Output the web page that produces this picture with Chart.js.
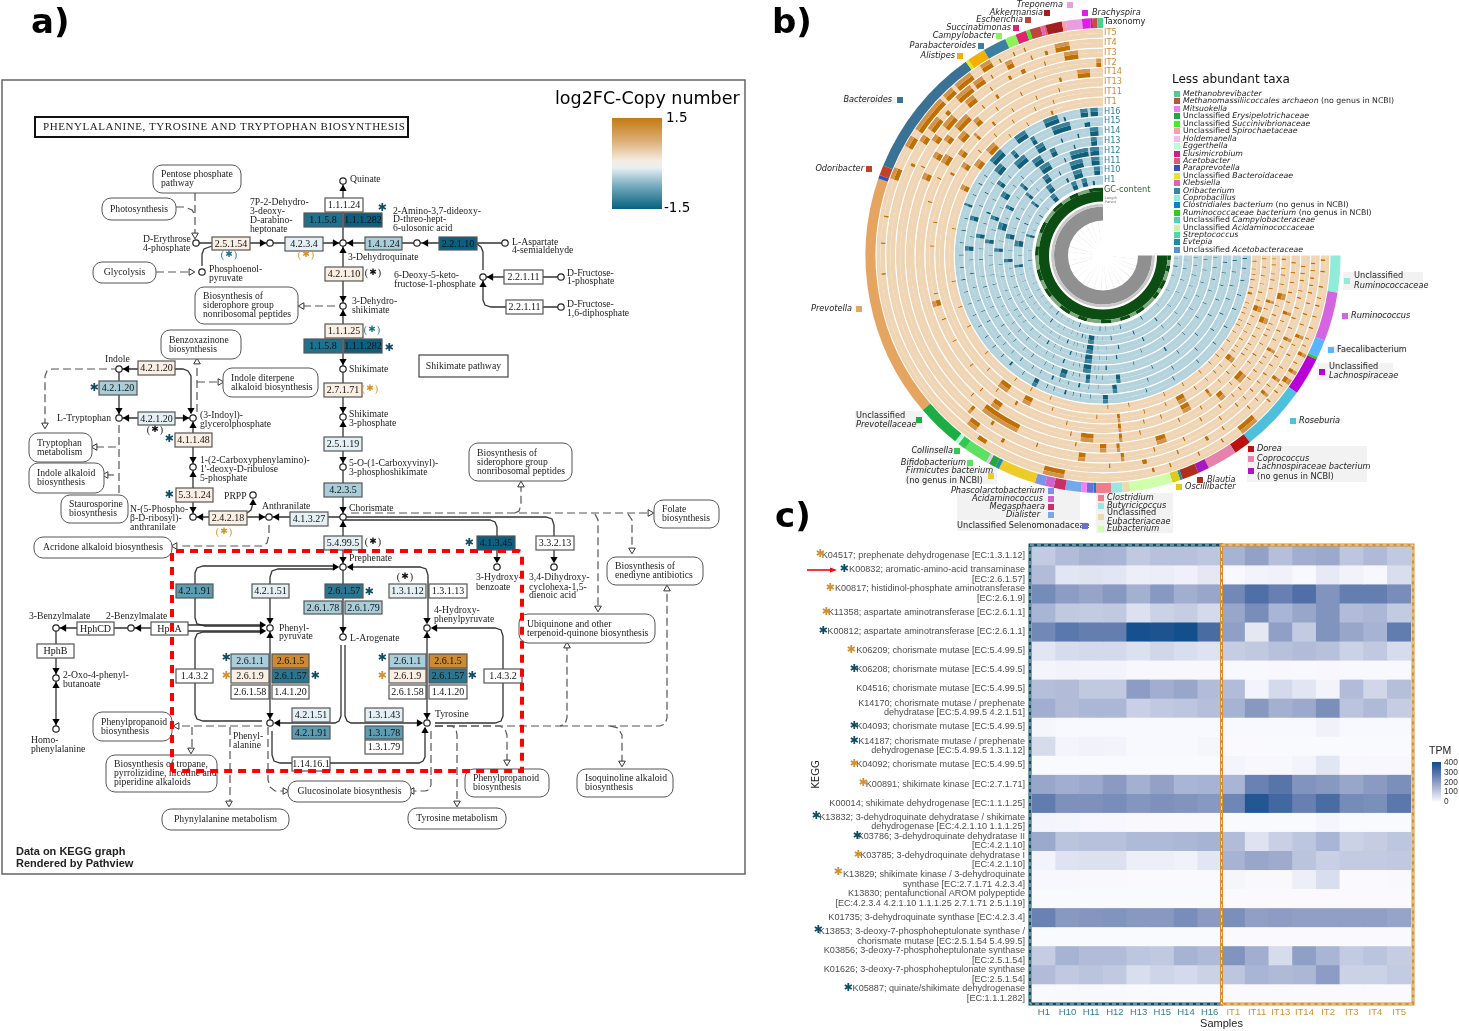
<!DOCTYPE html>
<html><head><meta charset="utf-8">
<style>html,body{margin:0;padding:0;background:#fff;width:1459px;height:1031px;overflow:hidden}canvas{position:absolute}</style>
<script src="https://cdn.jsdelivr.net/npm/chart.js@4"></script>
</head><body>
<canvas id="a" width="752" height="880" style="left:0px;top:0px"></canvas>
<canvas id="b" width="689" height="540" style="left:770px;top:0px"></canvas>
<canvas id="c" width="689" height="536" style="left:770px;top:495px"></canvas>
<script>
/* ---------- PANEL C DATA ---------- */
const samples=['H1','H10','H11','H12','H13','H15','H14','H16','IT1','IT11','IT13','IT14','IT2','IT3','IT4','IT5'];
const keggLabels=[
'K04517; prephenate dehydrogenase [EC:1.3.1.12]',
['K00832; aromatic-amino-acid transaminase','[EC:2.6.1.57]'],
['K00817; histidinol-phosphate aminotransferase','[EC:2.6.1.9]'],
'K11358; aspartate aminotransferase [EC:2.6.1.1]',
'K00812; aspartate aminotransferase [EC:2.6.1.1]',
'K06209; chorismate mutase [EC:5.4.99.5]',
'K06208; chorismate mutase [EC:5.4.99.5]',
'K04516; chorismate mutase [EC:5.4.99.5]',
['K14170; chorismate mutase / prephenate','dehydratase [EC:5.4.99.5 4.2.1.51]'],
'K04093; chorismate mutase [EC:5.4.99.5]',
['K14187; chorismate mutase / prephenate','dehydrogenase [EC:5.4.99.5 1.3.1.12]'],
'K04092; chorismate mutase [EC:5.4.99.5]',
'K00891; shikimate kinase [EC:2.7.1.71]',
'K00014; shikimate dehydrogenase [EC:1.1.1.25]',
['K13832; 3-dehydroquinate dehydratase / shikimate','dehydrogenase [EC:4.2.1.10 1.1.1.25]'],
['K03786; 3-dehydroquinate dehydratase II','[EC:4.2.1.10]'],
['K03785; 3-dehydroquinate dehydratase I','[EC:4.2.1.10]'],
['K13829; shikimate kinase / 3-dehydroquinate','synthase [EC:2.7.1.71 4.2.3.4]'],
['K13830; pentafunctional AROM polypeptide','[EC:4.2.3.4 4.2.1.10 1.1.1.25 2.7.1.71 2.5.1.19]'],
'K01735; 3-dehydroquinate synthase [EC:4.2.3.4]',
['K13853; 3-deoxy-7-phosphoheptulonate synthase /','chorismate mutase [EC:2.5.1.54 5.4.99.5]'],
['K03856; 3-deoxy-7-phosphoheptulonate synthase','[EC:2.5.1.54]'],
['K01626; 3-deoxy-7-phosphoheptulonate synthase','[EC:2.5.1.54]'],
['K05887; quinate/shikimate dehydrogenase','[EC:1.1.1.282]']];
const tpm=[
[100,130,150,145,105,120,120,110,150,185,125,160,170,110,135,105],
[130,45,48,45,25,28,22,40,5,15,20,5,35,18,8,60],
[235,195,180,205,155,205,160,175,240,300,260,300,215,265,265,230],
[145,105,100,105,55,85,95,70,175,230,145,175,215,130,140,100],
[240,280,265,265,390,380,395,310,190,40,190,100,215,175,150,270],
[45,65,70,70,55,75,60,50,95,105,120,130,120,85,105,65],
[12,18,15,14,8,8,8,8,5,5,8,5,8,5,5,5],
[125,130,105,105,195,160,175,130,130,15,70,45,15,130,75,125],
[160,130,140,140,90,105,110,125,150,205,155,170,225,115,135,95],
[10,5,5,5,5,5,5,5,5,5,5,5,20,5,5,5],
[65,12,18,15,5,5,5,10,2,2,3,3,3,3,3,3],
[3,3,3,3,3,3,3,3,12,8,8,15,45,8,8,8],
[175,160,170,200,155,185,145,150,145,255,285,215,205,175,200,225],
[270,220,220,230,210,220,215,205,245,370,320,260,310,235,225,280],
[12,10,8,8,6,6,6,6,3,3,3,3,10,3,3,3],
[170,115,120,120,135,135,140,150,130,50,90,110,145,85,95,110],
[15,50,55,55,25,25,20,45,150,175,165,115,90,100,100,105],
[8,8,6,6,4,4,4,4,10,6,6,25,60,4,4,6],
[3,3,3,3,3,3,3,3,2,2,2,2,2,2,2,2],
[255,205,210,215,205,205,230,200,225,190,195,190,190,190,190,180],
[3,3,3,3,3,3,3,3,2,2,2,2,2,2,2,2],
[95,150,130,130,110,105,150,135,215,160,65,190,145,100,115,95],
[130,105,115,105,60,80,70,85,110,145,135,140,195,85,85,100],
[4,6,6,6,4,4,4,4,2,2,2,2,2,2,2,2]];
const tpmTicks=[400,300,200,100,0];
const TEAL='#0f4c63',ORANGE='#d4902e';
const keggStars=[[820,554,ORANGE],[844,569,TEAL],[830,588,ORANGE],[826,612,ORANGE],[823,631,TEAL],[851,650,ORANGE],[854,669,TEAL],[854,726,TEAL],[854,741,TEAL],[854,764,ORANGE],[863,783,ORANGE],[816,816,TEAL],[857,836,TEAL],[858,855,ORANGE],[838,872,ORANGE],[818,930,TEAL],[848,988,TEAL]];

/* ---------- PANEL B DATA ---------- */
const taxaEnd=[9,21,25.4,26,35.3,51.8,56.1,63.5,66.3,70.4,71,73,83.4,85.2,88,91.7,92.3,94,95.3,99.2,102,104.2,106.7,116,117,118.7,119.5,125.5,127.5,128.5,139.4,198.9,199.8,202.3,234.7,235.5,239.9,245.7,248.4,251.1,252,254.7,255.5,256,260,261,264.9,266.9,267.5,268.6,270];
const taxaColors=['#8fecd9','#d465e0','#59b5ff','#2fcc1a','#b800d8','#4fc0dc','#bb1111','#e583ad','#a818c0','#ae2f1c','#1a8da0','#dccb19','#cfffa8','#ecdba8','#9be6e0','#f07e88','#0f7fd0','#6b6fd6','#f57df5','#74a8ea','#c92e66','#d163cf','#7a94e8','#eecb29','#2d8ca0','#1fa83c','#f4bdf0','#5de162','#35c653','#b8ffd8','#1cae43','#e5a560','#3550c0','#c0412a','#3a7296','#e3e81e','#f4b000','#3d7f9f','#8cf25a','#e0236f','#3df11d','#c0453a','#ea5fb3','#e05a70','#a51e1e','#fb9fa8','#e89fe0','#e21de8','#c8218c','#c0513f','#49d08e'];
const ringNames=['IT5','IT4','IT3','IT2','IT14','IT13','IT11','IT1','H16','H15','H14','H13','H12','H11','H10','H1'];
const ringHits={
IT5:[[1,2],[4,5],[8,9],[13,14],[19,20],[26,27,1],[31,32,1],[33.5,35,1],[38,39],[41,42],[47,52,1],[57,58],[64,65],[72,73],[76.5,78],[100,105.5,1],[122,128],[175,176],[183,184],[190,191],[200,203,1],[209,212,1],[214,224,1],[225,228,1],[229,234,1],[237,240,1],[242,243],[246,247],[249,250]],
IT4:[[2,3],[6,7],[10,11],[16,17],[22,23,1],[28,29],[35,36,1],[40,41,1],[46,47],[55,56],[60,62],[69,70],[78,81],[88,89],[118,120],[126,129,1],[205,207],[212,214,1],[216,220,1],[222,225],[227,232,1],[233,236,1],[238,239],[243,245,1],[250,251],[254,256],[257,261,1]],
IT3:[[3,4],[7,8],[12,13],[18,19],[24,25,1],[30,31],[36,37],[42,43],[48,49],[54,55],[66,67],[75,76],[84,85,1],[95,97,1],[109,110],[123,125],[130,131,1],[206,207],[214,216,1],[219,223,1],[228,231,1],[236,237],[242,244],[246,249],[253,254],[259,263,1]],
IT2:[[2,3],[5,6],[11,12],[17,18,1],[23,24],[29,30,1],[37,38],[44,45],[52,53],[59,60],[71,74,1],[85,86,1],[89,91,1],[98,99],[116,128,1],[133,134],[203,205,1],[210,212,1],[216,218,1],[221,226,1],[231,232],[236,238],[249,250],[268,269.5,1]],
IT14:[[1,2],[6,7],[12,14,1],[19,20],[26,27],[33,34],[40,43,1],[49,51,1],[57,58],[65,66],[78,79],[84,85,1],[93,97,1],[100,101],[124,127,1],[132,133],[197,198],[205,206],[210,213,1],[219,222,1],[226,228,1],[234,235],[243,244],[256,258],[262,266,1]],
IT13:[[3,4],[8,9],[15,16,1],[21,23,1],[28,29],[35,36],[43,44],[52,53,1],[60,63,1],[70,71],[76,77],[84,85,1],[102,103],[120,122],[128,129],[140,141],[150,151],[158,159],[163,165,1],[167,168],[183,184],[191,192],[208,210],[215,217,1],[223,224,1],[230,232],[238,239],[247,248],[255,256]],
IT11:[[1,2],[7,8],[13,14],[18,20,1],[25,26],[31,32],[38,40,1],[46,47],[55,56],[60,63,1],[67,68],[75,76],[84,85,1],[92,93],[108,109],[116,119,1],[125,129,1],[135,136],[212,214,1],[220,221],[228,229],[236,237],[245,246],[252,253]],
IT1:[[2,3],[9,10],[14,16],[22,23],[27,28],[34,35],[41,42],[50,51],[58,59],[66,67],[80,81],[88,89],[110,111],[118,119],[125,126],[140,141],[152,153],[160,161],[170,171],[190,191],[205,207,1],[215,218,1],[222,226,1],[232,233],[240,241],[250,252]],
H16:[[1,2],[5,6],[10,11],[16,17],[22,23],[30,31],[38,39],[48,49],[60,61],[72,73],[88,90,1],[105,107],[117,119,1],[130,132],[170,171],[180,181],[190,191],[200,201,1],[210,211],[220,226,1],[233,238,1],[246,252,1],[254,256],[261,264,1],[265,268,1]],
H15:[[2,3],[7,8],[13,14],[19,20],[26,27],[34,35],[45,46],[58,59],[70,71],[84,86,1],[100,102],[112,114],[128,129],[150,151],[172,173],[182,184,1],[195,197,1],[208,209],[218,222,1],[228,230,1],[238,240,1],[248,256,1],[262,268]],
H14:[[3,4],[8,9],[14,15],[21,22],[29,30],[40,41],[52,53],[66,67],[82,84,1],[96,98,1],[107,110,1],[125,126],[145,146],[165,166],[178,179],[188,190,1],[200,202],[214,216,1],[226,232,1],[238,242,1],[250,252],[258,260],[264,268,1]],
H13:[[1,2],[6,7],[12,13],[18,19],[25,26],[33,34],[44,45],[56,58],[74,75],[88,90],[96,100,1],[110,112],[132,133],[158,159],[175,176],[186,188,1],[198,200,1],[210,213,1],[224,225],[233,238,1],[243,246,1],[255,257],[264,267,1]],
H12:[[2,3],[8,9],[15,16],[23,24],[31,32],[42,43],[54,55],[68,69],[82,84],[96,100,1],[108,110],[122,124],[148,149],[168,169],[182,184,1],[194,198,1],[206,208,1],[220,222,1],[234,240,1],[248,250],[252,262,1],[263,268,1]],
H11:[[1,2],[6,7],[12,13],[19,20],[27,28],[38,39],[50,51],[64,66],[80,82],[96,100,1],[112,114],[138,139],[160,161],[176,178,1],[190,193,1],[203,205],[218,220,1],[232,236,1],[242,244],[250,258,1],[263,268,1]],
H10:[[3,4],[9,10],[17,18],[26,27],[37,38],[50,52],[68,70],[84,86],[96,100,1],[104,106],[128,130],[150,151],[172,174,1],[186,190,1],[202,204],[216,218,1],[230,234,1],[244,248],[250,256,1],[264,268,1]],
H1:[[2,3],[8,10],[16,17],[28,29],[42,43],[58,60],[76,78],[92,94],[108,110],[128,130],[152,153],[176,178],[194,196,1],[212,214],[228,232,1],[246,250,1],[254,258,1],[262,266]]
};
const ringFineTicks={
IT5:[11,16,22,24,29,36],IT4:[4,8,13,19,25,32,38,43],IT3:[5,10,15,21,27,33,39,45],IT2:[8,14,20,26,32,34,40,47],IT14:[4,9,16,22,24,29,36,45],IT13:[1,6,11,18,25,31,33,40,47],IT11:[4,10,16,22,28,34,36,43,50],IT1:[5,7,12,18,20,25,30,38,45],
H16:[95,99,102,110,113,124,135,140,145,150,155,160,165,175,185,195,205,214],H15:[92,96,105,109,118,122,133,138,142,155,160,166,178,188,202,213],H14:[90,93,101,104,114,118,130,136,140,150,155,160,170,183,195,207,220],H13:[92,94,102,105,116,120,126,138,143,148,153,165,170,180,193,205,218],H12:[88,92,102,105,114,118,128,134,140,144,155,160,175,188,201,214,226],H11:[88,93,102,106,108,118,124,130,145,150,155,167,172,183,197,210,225],H10:[90,94,102,108,112,118,122,135,140,145,156,162,167,180,196,208,222],H1:[82,88,98,102,114,118,124,135,140,146,158,164,170,184,200,206,220]};
const gcFringe=[[4,9],[14,22],[30,34],[40,52],[60,66],[75,83],[92,104],[112,120],[130,142],[150,158],[168,180],[188,200],[210,222],[232,240],[248,258]];
const dendroSpokes=[6,17,25,38,52,60,71,84,93,105,118,126,139,150,163,172,186,195,208,219,228,241,250,262];
const taxaLabels=[
['|Treponema',1063,5,'r',1070,5,'#e89fe0'],['|Akkermansia',1043,13,'r',1047,13,'#a51e1e'],['|Brachyspira',1092,13,'l',1085,13,'#e21de8'],
['|Escherichia',1023,20,'r',1028,20,'#c0453a'],['|Succinatimonas',1011,28,'r',1016,28,'#e0236f'],['|Campylobacter',995,36,'r',999,36,'#8cf25a'],
['|Parabacteroides',976,46,'r',981,46,'#3d7f9f'],['|Alistipes',955,56,'r',960,56,'#f4b000'],['|Bacteroides',892,100,'r',900,100,'#3a7296'],
['|Odoribacter',864,169,'r',869,169,'#c0412a'],['|Prevotella',852,309,'r',859,309,'#e5a560'],['Unclassified',856,416,'l',919,420,'#1cae43'],
['|Prevotellaceae',856,425,'l'],['|Collinsella',953,451,'r',957,451,'#35c653'],['|Bifidobacterium',966,463,'r',970,463,'#5de162'],
['|Firmicutes bacterium',906,471,'l',991,476,'#eecb29'],['(no genus in NCBI)',906,481,'l'],
['|Phascolarctobacterium',1045,491,'r',1051,491,'#7a94e8'],['|Acidaminococcus',1043,499,'r',1051,499,'#d163cf'],['|Megasphaera',1045,507,'r',1051,507,'#c92e66'],['|Dialister',1040,515,'r',1051,515,'#74a8ea'],
['Unclassified Selenomonadaceae',957,526,'l',1085,526,'#6b6fd6'],
['|Clostridium',1107,498,'l',1101,498,'#f07e88'],['|Butyricicoccus',1107,506,'l',1101,506,'#9be6e0'],['Unclassified',1107,513,'l',1101,517,'#ecdba8'],['|Eubacteriaceae',1107,522,'l'],['|Eubacterium',1107,529,'l',1101,529,'#cfffa8'],
['|Oscillibacter',1185,487,'l',1179,487,'#dccb19'],['|Blautia',1207,480,'l',1200,480,'#ae2f1c'],
['|Dorea',1257,449,'l',1251,449,'#bb1111'],['|Coprococcus',1257,459,'l',1251,459,'#e583ad'],['|Lachnospiraceae bacterium',1257,467,'l',1251,471,'#a818c0'],['(no genus in NCBI)',1257,477,'l'],
['|Roseburia',1299,421,'l',1293,421,'#4fc0dc'],['Unclassified',1329,367,'l',1322,372,'#b800d8'],['|Lachnospiraceae',1329,376,'l'],
['Faecalibacterium',1337,350,'l',1331,350,'#59b5ff'],['|Ruminococcus',1351,316,'l',1345,316,'#d465e0'],['Unclassified',1354,276,'l',1347,281,'#8fecd9'],['|Ruminococcaceae',1354,286,'l']];
const taxaBackdrops=[[846,97,50,7],[855,411,68,18],[913,447,47,8],[905,459,67,8],[905,467,92,17],[957,488,123,32],[957,522,131,9],[1096,493,77,40],[1247,446,120,36],[1343,272,80,18],[1317,363,76,17],[1327,346,75,7],[1342,313,65,7],[1290,418,52,6]];
const lessAbundant=[['|Methanobrevibacter','#49d08e',94],['|Methanomassiliicoccales archaeon| (no genus in NCBI)','#c0513f',101],['|Mitsuokella','#f57df5',109],['Unclassified |Erysipelotrichaceae','#1fa83c',116],['Unclassified |Succinivibrionaceae','#3df11d',124],['Unclassified |Spirochaetaceae','#fb9fa8',131],['|Holdemanella','#f4bdf0',139],['|Eggerthella','#b8ffd8',146],['|Elusimicrobium','#c8218c',154],['|Acetobacter','#e05a70',161],['|Paraprevotella','#3550c0',168],['Unclassified |Bacteroidaceae','#e3e81e',176],['|Klebsiella','#ea5fb3',183],['|Oribacterium','#2d8ca0',191],['|Coprobacillus','#8feee0',198],['|Clostridiales bacterium| (no genus in NCBI)','#0f7fd0',205],['|Ruminococcaceae bacterium| (no genus in NCBI)','#2fcc1a',213],['Unclassified |Campylobacteraceae','#4fd0b8',220],['Unclassified |Acidaminococcaceae','#cdf2a0',228],['|Streptococcus','#4fd8b0',235],['|Evtepia','#1a8da0',242],['Unclassified |Acetobacteraceae','#5a8ed8',250]];

/* ---------- PANEL A DATA ---------- */
const CR='#f9efe2',LB='#e4f0f4',MB='#a9cdd9',DB='#5c9db3',TB='#2a7690',NV='#0b5f80',OR='#cc8a32',WH='#ffffff',T2='#1e7290';
const enzymes=[[212,237,250,250,'2.5.1.54',CR],[285,237,323,251,'4.2.3.4',LB],[325,198,363,212,'1.1.1.24',WH],[304,213,342,227,'1.1.5.8',T2],[344,213,382,227,'1.1.1.282',NV],[325,267,363,281,'4.2.1.10',CR],[325,324,363,338,'1.1.1.25',CR],[304,339,342,353,'1.1.5.8',T2],[344,339,382,353,'1.1.1.282',NV],[324,383,362,397,'2.7.1.71',CR],[324,437,362,451,'2.5.1.19',LB],[138,361,175,375,'4.2.1.20',CR],[99,381,137,395,'4.2.1.20',MB],[138,412,175,425,'4.2.1.20',LB],[175,433,212,447,'4.1.1.48',CR],[365,237,402,250,'1.4.1.24',MB],[439,237,477,250,'2.2.1.10',NV],[504,270,543,284,'2.2.1.11',WH],[506,300,543,314,'2.2.1.11',WH],[176,488,213,502,'5.3.1.24',CR],[209,511,247,525,'2.4.2.18',CR],[290,512,328,526,'4.1.3.27',LB],[324,483,362,497,'4.2.3.5',MB],[324,536,362,550,'5.4.99.5',LB],[176,584,213,598,'4.2.1.91',DB],[252,584,289,598,'4.2.1.51',LB],[325,584,363,598,'2.6.1.57',TB],[304,601,342,614,'2.6.1.78',MB],[345,601,382,614,'2.6.1.79',MB],[77,622,114,635,'HphCD',WH],[151,622,188,635,'HphA',WH],[37,644,74,658,'HphB',WH],[176,669,213,683,'1.4.3.2',WH],[231,654,269,668,'2.6.1.1',MB],[272,654,309,668,'2.6.1.5',OR],[231,669,269,683,'2.6.1.9',CR],[272,669,309,683,'2.6.1.57',TB],[231,685,269,699,'2.6.1.58',WH],[272,685,309,699,'1.4.1.20',WH],[292,708,330,722,'4.2.1.51',LB],[292,726,330,739,'4.2.1.91',DB],[292,757,330,771,'1.14.16.1',WH],[477,536,515,550,'4.1.3.45',NV],[536,536,574,550,'3.3.2.13',WH],[389,584,426,598,'1.3.1.12',LB],[429,584,467,598,'1.3.1.13',WH],[389,654,426,668,'2.6.1.1',MB],[429,654,467,668,'2.6.1.5',OR],[389,669,426,683,'2.6.1.9',CR],[429,669,467,683,'2.6.1.57',TB],[389,685,426,699,'2.6.1.58',WH],[429,685,467,699,'1.4.1.20',WH],[484,669,522,683,'1.4.3.2',WH],[365,708,403,722,'1.3.1.43',LB],[365,726,403,739,'1.3.1.78',DB],[365,740,403,754,'1.3.1.79',WH]];
const pathwayBoxes=[[153,165,241,193,['Pentose phosphate','pathway'],0],[102,198,176,220,['Photosynthesis'],1],[93,262,156,283,['Glycolysis'],1],[195,287,298,324,['Biosynthesis of','siderophore group','nonribosomal peptides'],0],[161,330,241,359,['Benzoxazinone','biosynthesis'],0],[223,368,318,397,['Indole diterpene','alkaloid biosynthesis'],0],[29,433,92,462,['Tryptophan','metabolism'],0],[29,463,104,493,['Indole alkaloid','biosynthesis'],0],[61,495,128,523,['Staurosporine','biosynthesis'],0],[34,537,172,558,['Acridone alkaloid biosynthesis'],1],[93,712,172,741,['Phenylpropanoid','biosynthesis'],0],[106,755,217,792,['Biosynthesis of tropane,','pyrrolizidine, nicotine and','piperidine alkaloids'],0],[162,809,289,830,['Phynylalanine metabolism'],1],[288,781,411,802,['Glucosinolate biosynthesis'],1],[469,443,572,481,['Biosynthesis of','siderophore group','nonribosomal peptides'],0],[654,500,719,528,['Folate','biosynthesis'],0],[607,557,703,585,['Biosynthesis of','enediyne antibiotics'],0],[519,614,655,643,['Ubiquinone and other','terpenoid-quinone biosynthesis'],0],[465,769,549,797,['Phenylpropanoid','biosynthesis'],0],[577,769,673,797,['Isoquinoline alkaloid','biosynthesis'],0],[408,808,506,829,['Tyrosine metabolism'],1]];
const metabolites=[[343,181],[196,243],[270,243],[343,243],[202,272],[343,306],[343,369],[343,417],[343,467],[119,369],[119,418],[193,418],[193,467],[417,243],[505,243],[483,277],[561,277],[561,307],[253,495],[193,517],[269,517],[343,517],[343,567],[270,628],[343,637],[270,723],[56,628],[131,628],[56,678],[56,729],[497,567],[554,567],[427,628],[427,723]];
const solidEdges=[[[343,181],[343,243]],[[196,243],[270,243]],[[270,243],[343,243]],[[417,243],[343,243]],[[417,243],[505,243]],[[202,266],[202,254],[204,249],[212,246]],[[343,243],[343,306]],[[343,306],[343,369]],[[343,369],[343,417]],[[343,417],[343,467]],[[343,467],[343,517]],[[343,517],[343,567]],[[343,517],[269,517]],[[269,517],[193,517]],[[247,513],[251,510],[253,503]],[[193,467],[193,517]],[[193,418],[193,467]],[[119,369],[119,418]],[[119,369],[183,369],[188,371],[191,376],[191,410]],[[119,418],[193,418]],[[483,277],[561,277]],[[483,270],[483,252],[481,247],[477,244]],[[483,277],[483,300],[485,305],[491,307],[561,307]],[[56,628],[131,628]],[[131,628],[188,628]],[[188,625],[262,625]],[[188,631],[262,631]],[[56,628],[56,678]],[[56,678],[56,729]],[[343,567],[343,637]],[[335,569],[278,569],[272,571],[270,577],[270,620]],[[335,566],[203,566],[197,568],[195,573],[195,618],[197,624],[205,626],[262,626]],[[262,632],[203,632],[197,634],[195,639],[195,714],[197,719],[203,721],[262,721]],[[270,628],[270,723]],[[341,645],[341,716],[339,721],[335,723],[278,723]],[[345,645],[345,716],[347,721],[351,723],[419,723]],[[427,628],[427,723]],[[351,567],[420,567],[426,569],[428,575],[428,620]],[[435,628],[495,628],[501,630],[503,636],[503,716],[501,721],[495,723],[435,723]],[[343,520],[490,520],[495,522],[497,527],[497,559]],[[343,517],[546,517],[552,519],[554,525],[554,559]],[[272,731],[272,755],[274,761],[280,763],[419,763],[423,761],[425,757],[425,731]]];
const dashedEdges=[[[195,193],[195,235]],[[176,207],[185,207],[192,210],[195,215]],[[156,272],[190,272]],[[335,306],[300,306]],[[119,369],[52,369],[47,371],[45,376],[45,425]],[[197,412],[197,366]],[[197,382],[222,382]],[[119,425],[119,495]],[[96,447],[117,447]],[[106,475],[117,475]],[[269,525],[269,535],[267,543],[263,546],[180,546]],[[262,726],[180,726]],[[192,727],[192,750]],[[230,727],[230,803]],[[268,727],[268,780],[270,787],[275,791],[285,791]],[[435,726],[452,726],[456,729],[457,735],[457,802]],[[431,731],[431,785],[429,790],[425,791],[414,791]],[[435,726],[500,726],[505,729],[507,735],[507,762]],[[435,726],[560,726],[565,724],[567,718],[567,648]],[[560,726],[660,726],[665,724],[667,718],[667,590]],[[610,726],[618,728],[622,735],[622,762]],[[351,513],[648,513]],[[515,513],[519,511],[521,505],[521,487]],[[595,514],[598,520],[598,605]],[[628,514],[632,520],[632,548]]];
const solidArrows=[[343,189,'u'],[262,243,'r'],[335,243,'r'],[351,243,'l'],[426,243,'l'],[343,251,'u'],[343,298,'d'],[343,314,'u'],[343,361,'d'],[343,409,'d'],[343,425,'u'],[343,459,'d'],[343,509,'d'],[343,525,'u'],[343,559,'d'],[277,517,'l'],[261,517,'r'],[201,517,'l'],[253,503,'u'],[193,509,'d'],[193,475,'u'],[193,426,'u'],[193,459,'d'],[119,410,'d'],[127,369,'l'],[191,410,'d'],[127,418,'l'],[185,418,'r'],[491,277,'l'],[483,285,'u'],[64,628,'l'],[139,628,'l'],[262,625,'r'],[262,631,'r'],[56,670,'d'],[56,686,'u'],[56,721,'d'],[343,629,'d'],[270,620,'d'],[335,567,'r'],[270,636,'u'],[270,715,'d'],[278,723,'l'],[419,723,'r'],[427,636,'u'],[427,715,'d'],[427,620,'d'],[351,567,'l'],[435,628,'l'],[497,559,'d'],[554,559,'d'],[425,731,'u']];
const openArrows=[[195,235,'d'],[191,272,'r'],[302,306,'l'],[45,425,'d'],[197,362,'u'],[220,382,'r'],[95,447,'l'],[106,475,'l'],[175,546,'l'],[177,726,'l'],[191,750,'d'],[229,803,'d'],[285,791,'r'],[457,803,'d'],[412,791,'l'],[507,762,'d'],[567,646,'u'],[667,589,'u'],[622,763,'d'],[650,513,'r'],[521,485,'u'],[598,608,'d'],[632,550,'d']];
const metaboliteLabels=[['7P-2-Dehydro-',250,202],['3-deoxy-',250,211],['D-arabino-',250,220],['heptonate',250,229],['2-Amino-3,7-dideoxy-',393,211],['D-threo-hept-',393,219],['6-ulosonic acid',393,228],['Quinate',350,179],['D-Erythrose',143,239],['4-phosphate',143,248],['Phosphoenol-',209,269],['pyruvate',209,278],['3-Dehydroquinate',348,257],['3-Dehydro-',352,301],['shikimate',352,310],['Shikimate',349,369],['Shikimate',349,414],['3-phosphate',349,423],['5-O-(1-Carboxyvinyl)-',349,463],['3-phosphoshikimate',349,472],['Indole',105,359],['L-Tryptophan',57,418],['(3-Indoyl)-',200,415],['glycerolphosphate',200,424],['1-(2-Carboxyphenylamino)-',200,460],["1'-deoxy-D-ribulose",200,469],['5-phosphate',200,478],['6-Deoxy-5-keto-',394,275],['fructose-1-phosphate',394,284],['L-Aspartate',512,242],['4-semialdehyde',512,250],['D-Fructose-',567,273],['1-phosphate',567,281],['D-Fructose-',567,304],['1,6-diphosphate',567,313],['PRPP',224,496],['Anthranilate',262,506],['Chorismate',349,508],['Prephenate',349,558],['N-(5-Phospho-',130,509],['β-D-ribosyl)-',130,518],['anthranilate',130,527],['Phenyl-',279,628],['pyruvate',279,636],['L-Arogenate',350,638],['3-Benzylmalate',29,616],['2-Benzylmalate',106,616],['2-Oxo-4-phenyl-',63,675],['butanoate',63,684],['Homo-',31,740],['phenylalanine',31,749],['Phenyl-',233,736],['alanine',233,745],['Tyrosine',435,714],['4-Hydroxy-',434,610],['phenylpyruvate',434,619],['3-Hydroxy-',476,577],['benzoate',476,587],['3,4-Dihydroxy-',529,577],['cyclohexa-1,5-',529,587],['dienoic acid',529,595]];
const BLUESTAR='#1d6f8a',DARK='#111';
const pathStarsParen=[[229,255,BLUESTAR],[306,255,ORANGE],[373,273,DARK],[372,330,BLUESTAR],[370,389,ORANGE],[155,430,DARK],[224,532,ORANGE],[373,542,DARK],[405,577,DARK]];
const pathStars=[[382,208,TEAL],[389,348,TEAL],[94,388,TEAL],[169,439,TEAL],[169,495,TEAL],[369,592,TEAL],[226,658,TEAL],[226,676,ORANGE],[315,676,TEAL],[382,658,TEAL],[382,676,ORANGE],[472,676,TEAL],[469,543,TEAL]];

/* ---------- helpers ---------- */
const STOPS=[[0,[251,251,255]],[100,[195,203,226]],[200,[138,154,194]],[300,[79,111,166]],[400,[16,76,140]]];
function heat(v){for(let i=1;i<STOPS.length;i++){if(v<=STOPS[i][0]){const a=STOPS[i-1],b=STOPS[i],t=(v-a[0])/(b[0]-a[0]);return 'rgb('+a[1].map((c,k)=>Math.round(c+(b[1][k]-c)*t)).join(',')+')';}}return 'rgb(16,76,140)';}
function star(ctx,x,y,color,size){ctx.font=(size||11)+'px "DejaVu Sans"';ctx.fillStyle=color;ctx.textAlign='center';ctx.textBaseline='middle';ctx.fillText('\u2731',x,y);}
function rich(ctx,str,x,y,align,size){const parts=str.split('|');const f=i=>(i%2?'italic ':'')+size+'px "DejaVu Sans"';let w=0;parts.forEach((p,i)=>{ctx.font=f(i);w+=ctx.measureText(p).width;});let cx=align==='r'?x-w:x;ctx.textAlign='left';ctx.textBaseline='middle';parts.forEach((p,i)=>{ctx.font=f(i);ctx.fillText(p,cx,y);cx+=ctx.measureText(p).width;});}

/* ---------- chart A: pathway ---------- */
const pt=a=>({x:a[0],y:a[1]});
const ROT={u:0,r:90,d:180,l:270};
const aDatasets=[];
aDatasets.push({label:'metabolites',data:metabolites.map(pt),showLine:false,pointRadius:3.2,pointBackgroundColor:'#fff',pointBorderColor:'#222',pointBorderWidth:1.2,order:0});
aDatasets.push({label:'arrows',data:solidArrows.map(pt),showLine:false,pointStyle:'triangle',pointRadius:4.2,pointRotation:solidArrows.map(a=>ROT[a[2]]),pointBackgroundColor:'#000',pointBorderColor:'#000',pointBorderWidth:0,order:1});
aDatasets.push({label:'openArrows',data:openArrows.map(pt),showLine:false,pointStyle:'triangle',pointRadius:3.8,pointRotation:openArrows.map(a=>ROT[a[2]]),pointBackgroundColor:'#fff',pointBorderColor:'#333',pointBorderWidth:1,order:1});
solidEdges.forEach(e=>aDatasets.push({data:e.map(pt),showLine:true,pointRadius:0,borderColor:'#333',borderWidth:1.3,order:3}));
dashedEdges.forEach(e=>aDatasets.push({data:e.map(pt),showLine:true,pointRadius:0,borderColor:'#555',borderWidth:1.2,borderDash:[8,4],order:3}));
new Chart(document.getElementById('a'),{type:'scatter',data:{datasets:aDatasets},
 options:{responsive:false,animation:false,events:[],layout:{padding:0,autoPadding:false},
 plugins:{legend:{display:false},tooltip:{enabled:false}},
 scales:{x:{type:'linear',min:0,max:752,display:false},y:{type:'linear',min:0,max:880,reverse:true,display:false}}},
 plugins:[{id:'pathway',afterDatasetsDraw(ch){const c=ch.ctx,X=v=>ch.scales.x.getPixelForValue(v),Y=v=>ch.scales.y.getPixelForValue(v);c.save();
  c.strokeStyle='#666';c.lineWidth=1.5;c.strokeRect(X(2),Y(80),X(745)-X(2),Y(874)-Y(80));
  c.strokeStyle='#111';c.lineWidth=2;c.fillStyle='#fff';c.fillRect(X(35),Y(117),373,20);c.strokeRect(X(35),Y(117),373,20);
  c.fillStyle='#222';c.font='11px "Liberation Serif"';c.textAlign='left';c.textBaseline='middle';c.letterSpacing='0.55px';c.fillText('PHENYLALANINE, TYROSINE AND TRYPTOPHAN BIOSYNTHESIS',X(43),Y(127.5));c.letterSpacing='0px';
  c.fillStyle='#fff';c.strokeStyle='#444';c.lineWidth=1.2;c.fillRect(X(419),Y(355),89,22);c.strokeRect(X(419),Y(355),89,22);c.fillStyle='#222';c.font='9.8px "Liberation Serif"';c.textAlign='center';c.fillText('Shikimate pathway',X(463.5),Y(366));
  pathwayBoxes.forEach(b=>{const x=X(b[0]),y=Y(b[1]),w=X(b[2])-x,h=Y(b[3])-y;c.beginPath();c.roundRect(x,y,w,h,9);c.fillStyle='#fff';c.fill();c.strokeStyle='#555';c.lineWidth=1;c.stroke();c.fillStyle='#222';c.font='9.7px "Liberation Serif"';c.textBaseline='middle';const n=b[4].length,step=9;b[4].forEach((t,i)=>{const ty=y+h/2+(i-(n-1)/2)*step;if(b[5]){c.textAlign='center';c.fillText(t,x+w/2,ty);}else{c.textAlign='left';c.fillText(t,x+8,ty);}});});
  enzymes.forEach(b=>{const x=X(b[0]),y=Y(b[1]),w=X(b[2])-x,h=Y(b[3])-y;c.fillStyle=b[5];c.fillRect(x,y,w,h);c.strokeStyle='#555';c.lineWidth=1.2;c.strokeRect(x,y,w,h);c.fillStyle='#111';c.font='10px "Liberation Serif"';c.textAlign='center';c.textBaseline='middle';c.fillText(b[4],x+w/2,y+h/2+.5);});
  c.fillStyle='#222';c.font='9.7px "Liberation Serif"';c.textAlign='left';c.textBaseline='middle';metaboliteLabels.forEach(l=>c.fillText(l[0],X(l[1]),Y(l[2])));
  pathStarsParen.forEach(s=>{c.fillStyle=s[2];c.font='10px "Liberation Serif"';c.textAlign='center';c.textBaseline='middle';c.fillText('(',X(s[0])-6.5,Y(s[1]));c.fillText(')',X(s[0])+6.5,Y(s[1]));star(c,X(s[0]),Y(s[1]),s[2],9);});
  pathStars.forEach(s=>star(c,X(s[0]),Y(s[1]),s[2],11));
  c.setLineDash([8,6]);c.strokeStyle='#ff0000';c.lineWidth=4;c.beginPath();c.moveTo(X(172),Y(771));c.lineTo(X(172),Y(551));c.lineTo(X(518),Y(551));c.quadraticCurveTo(X(522),Y(551),X(522),Y(556));c.lineTo(X(522),Y(771));c.lineTo(X(172),Y(771));c.stroke();c.setLineDash([]);
  c.fillStyle='#000';c.font='17.5px "DejaVu Sans"';c.textAlign='left';c.textBaseline='middle';c.fillText('log2FC-Copy number',X(555),Y(99));
  const g=c.createLinearGradient(0,Y(118),0,Y(209));g.addColorStop(0,'#c47a12');g.addColorStop(.25,'#dcae74');g.addColorStop(.47,'#f5ede2');g.addColorStop(.55,'#e6eff2');g.addColorStop(.75,'#74aabd');g.addColorStop(1,'#05627f');c.fillStyle=g;c.fillRect(X(612),Y(118),50,91);
  c.fillStyle='#000';c.font='13.5px "DejaVu Sans"';c.fillText('1.5',X(666),Y(118));c.fillText('-1.5',X(664),Y(208));
  c.font='bold 11px "Liberation Sans"';c.fillStyle='#222';c.fillText('Data on KEGG graph',X(16),Y(852));c.fillText('Rendered by Pathview',X(16),Y(864));
  c.font='bold 34px "DejaVu Sans"';c.fillStyle='#000';c.fillText('a)',X(31),Y(24));
  c.restore();}}]});

/* ---------- chart B: circular phylogram built from doughnut rings ---------- */
function widthsFromEnds(ends){return ends.map((e,i)=>e-(i?ends[i-1]:0));}
function splitArcs(hits,bg,dark,tallOnly,fine){const data=[],cols=[];let p=0;
 hits.filter(h=>!tallOnly||h[2]).sort((u,v)=>u[0]-v[0]).forEach(h=>{
  const end=(fine&&!h[2])?h[0]+(h[1]-h[0])*.42:h[1];
  if(end<=p)return;
  if(h[0]>p){data.push(h[0]-p);cols.push(bg);}
  const s=Math.max(h[0],p);data.push(end-s);cols.push(dark);p=end;});
 if(p<270){data.push(270-p);cols.push(bg);}return{data,cols};}
function ring(data,cols,weight){return{data,backgroundColor:cols,borderWidth:0,weight};}
const bDatasets=[];
bDatasets.push(ring(widthsFromEnds(taxaEnd),taxaColors,10));
bDatasets.push(ring([270],['#ffffff'],0.8));
ringNames.forEach(n=>{const isH=n[0]==='H',bg=isH?'#b4d3dd':'#f0d5b5',dk=isH?'#0f5f7d':'#c06f00',mid=isH?'#3b8199':'#d3934a';
 const hits=ringHits[n].concat(ringFineTicks[n].map(a=>[a,a+.8]));
 const o=splitArcs(hits,bg,mid,true,true),i=splitArcs(hits,bg,dk,false,true);
 bDatasets.push(ring(o.data,o.cols,4.2));bDatasets.push(ring(i.data,i.cols,4.6));bDatasets.push(ring([270],['#ffffff'],1));});
bDatasets.push(ring([270],['#ffffff'],1.9));
const gf=splitArcs(gcFringe,'#0b4d12','#7fa87f',false,false);
bDatasets.push(ring(gf.data,gf.cols,3.5));
bDatasets.push(ring([270],['#0b4d12'],10.5));
bDatasets.push(ring([270],['#ffffff'],2));
bDatasets.push(ring([270],['#c9c9c9'],3));
bDatasets.push(ring([270],['#909090'],14));
const sp=splitArcs(dendroSpokes.map(a=>[a,a+.7]),'#ffffff','#cfcfcf',false,false);
bDatasets.push(ring(sp.data,sp.cols,25));
new Chart(document.getElementById('b'),{type:'doughnut',data:{datasets:bDatasets},
 options:{responsive:false,animation:false,events:[],rotation:90,circumference:270,radius:237.5,cutout:10,
 layout:{padding:{left:95.5,right:118.5,top:18,bottom:47}},
 plugins:{legend:{display:false},tooltip:{enabled:false}}},
 plugins:[{id:'taxa',beforeDatasetsDraw(ch){const c=ch.ctx;c.save();c.translate(-770,0);c.fillStyle='#f2f2f2';taxaBackdrops.forEach(r=>c.fillRect(r[0],r[1],r[2],r[3]));c.restore();},
 afterDatasetsDraw(ch){const c=ch.ctx;c.save();c.translate(-770,0);
  taxaLabels.forEach(l=>{c.fillStyle='#222';rich(c,l[0],l[1],l[2],l[3],8.2);if(l[4]!==undefined){c.fillStyle=l[6];c.fillRect(l[4]-3,l[5]-3,6,6);}});
  c.fillStyle='#222';c.font='8.2px "DejaVu Sans"';c.textBaseline='middle';c.textAlign='left';c.fillText('Taxonomy',1104,22);
  ringNames.forEach((n,i)=>{c.fillStyle=n[0]==='H'?'#2d7f98':'#cc8a32';c.font='8.2px "DejaVu Sans"';c.textAlign='left';c.fillText(n,1104,33+i*9.8);});
  c.fillStyle='#2a6a2a';c.fillText('GC-content',1104,190);
  c.fillStyle='#777';c.font='3.5px "DejaVu Sans"';c.fillText('Length',1105,198);c.fillText('Parent',1105,202);
  c.fillStyle='#111';c.font='12px "DejaVu Sans"';c.fillText('Less abundant taxa',1172,80);
  lessAbundant.forEach(l=>{c.fillStyle=l[1];c.fillRect(1174,l[2]-3,6,6);c.fillStyle='#222';rich(c,l[0],1183,l[2],'l',7.8);});
  c.font='bold 34px "DejaVu Sans"';c.fillStyle='#000';c.textAlign='left';c.fillText('b)',772,24);
  c.restore();}}]});

/* ---------- chart C: heatmap ---------- */
const cDatasets=tpm.map((row,i)=>({label:Array.isArray(keggLabels[i])?keggLabels[i].join(' '):keggLabels[i],data:row.map(()=>[i,i+1]),backgroundColor:row.map(heat),borderWidth:0,categoryPercentage:1,barPercentage:1,grouped:false}));
new Chart(document.getElementById('c'),{type:'bar',data:{labels:samples,datasets:cDatasets},
 options:{responsive:false,animation:false,events:[],layout:{padding:{left:40,top:51,right:48,bottom:0}},
 plugins:{legend:{display:false},tooltip:{enabled:false}},
 scales:{
  x:{stacked:false,grid:{display:false,drawTicks:false},border:{display:false},afterFit(s){s.height=28;},
     ticks:{padding:4,autoSkip:false,maxRotation:0,font:{family:'"Liberation Sans"',size:9.5},color:c=>samples[c.index][0]==='H'?'#2d7f98':'#d4902e'},
     title:{display:true,text:'Samples',color:'#222',padding:{top:0,bottom:0},font:{family:'"Liberation Sans"',size:11}}},
  y:{type:'linear',min:0,max:24,reverse:true,grid:{display:false,drawTicks:false},border:{display:false},
     afterBuildTicks(s){s.ticks=keggLabels.map((_,i)=>({value:i+.5}));},afterFit(s){s.width=222;},
     ticks:{autoSkip:false,padding:7,color:'#4d4d4d',font:{family:'"Liberation Sans"',size:9.1,lineHeight:1.05},callback:v=>keggLabels[Math.floor(v)]},
     title:{display:true,text:'KEGG',color:'#222',padding:{top:0,bottom:0},font:{family:'"DejaVu Sans"',size:10}}}}},
 plugins:[{id:'extras',afterDraw(ch){const c=ch.ctx,a=ch.chartArea;c.save();
  const box=(x1,x2,col)=>{c.setLineDash([]);c.strokeStyle=col;c.lineWidth=3;c.strokeRect(x1,a.top-1,x2-x1,a.bottom-a.top+2);c.setLineDash([4,3]);c.strokeStyle='rgba(255,255,255,.75)';c.lineWidth=1;c.strokeRect(x1,a.top-1,x2-x1,a.bottom-a.top+2);c.setLineDash([]);};
  const mid=ch.scales.x.getPixelForValue(7.5);
  box(a.left-2,mid,TEAL);box(mid,a.right+2,ORANGE);
  c.translate(-770,-495);
  keggStars.forEach(s=>star(c,s[0],s[1],s[2],11));
  c.strokeStyle='#f00';c.fillStyle='#f00';c.lineWidth=1.6;c.beginPath();c.moveTo(807,570);c.lineTo(832,570);c.stroke();c.beginPath();c.moveTo(837,570);c.lineTo(830,567.5);c.lineTo(830,572.5);c.fill();
  c.fillStyle='#222';c.font='10.5px "Liberation Sans"';c.textAlign='left';c.textBaseline='middle';c.fillText('TPM',1429,751);
  const g=c.createLinearGradient(0,762,0,802);tpmTicks.forEach((t,i)=>g.addColorStop(i/4,heat(t)));c.fillStyle=g;c.fillRect(1432,762,9,40);
  c.fillStyle='#333';c.font='8.3px "Liberation Sans"';tpmTicks.forEach((t,i)=>c.fillText(String(t),1444,763+i*9.7));
  c.font='bold 34px "DejaVu Sans"';c.fillStyle='#000';c.fillText('c)',775,518);
  c.restore();}}]});
</script>
</body></html>
